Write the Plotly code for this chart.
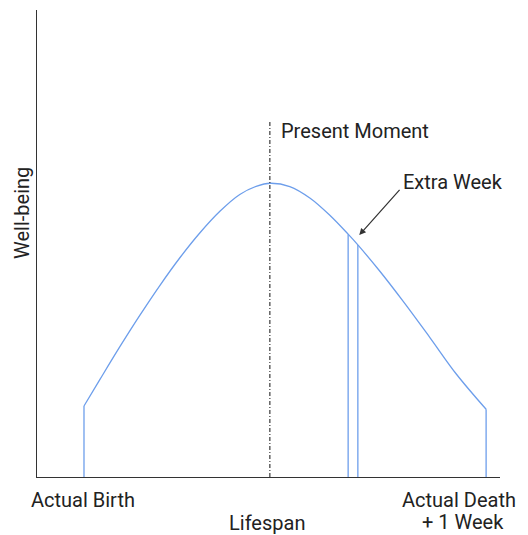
import plotly.graph_objects as go

# Data (arbitrary units: lifespan 0-100, well-being 0-100)
lifespan = [10.15, 13.6, 17.9, 22.2, 26.6, 30.9, 35.2, 39.5, 43.8, 47.5, 50.3,
            54.6, 59.0, 63.3, 67.2, 69.3, 74.1, 79.1, 84.9, 90.6, 97.0]
wellbeing = [15.2, 20.9, 27.9, 34.6, 41.1, 47.0, 52.3, 56.9, 60.5, 62.3, 62.9,
             62.2, 59.7, 56.0, 52.0, 49.7, 44.0, 37.6, 29.8, 22.0, 14.5]
present_x = 50.3
present_top = 76.4
week_idx = [14, 15]  # start / end of the extra week
tick_labels = ["Actual Birth", "Actual Death", "+ 1 Week"]

BLUE = "#6d9eeb"
DARK = "#222222"
FONT = "Roboto"
FS = 20

fig = go.Figure()

# main curve
fig.add_trace(go.Scatter(x=lifespan, y=wellbeing, mode="lines",
                         line=dict(color=BLUE, width=1.3, shape="spline", smoothing=1.0),
                         hoverinfo="skip"))

# vertical lines: birth, death, extra week
vert_idx = [0, len(lifespan) - 1] + week_idx
for i in vert_idx:
    fig.add_trace(go.Scatter(x=[lifespan[i], lifespan[i]], y=[0, wellbeing[i]], mode="lines",
                             line=dict(color=BLUE, width=1.3), hoverinfo="skip"))

# present moment dash-dot
fig.add_trace(go.Scatter(x=[present_x, present_x], y=[0, present_top], mode="lines",
                         line=dict(color="#111111", width=1, dash="4px,2px,1px,2px"),
                         hoverinfo="skip"))

ann = []
ann.append(dict(x=present_x, y=present_top - 2.3, xref="x", yref="y", text="Present Moment",
                showarrow=False, xanchor="left", yanchor="middle", xshift=9,
                font=dict(family=FONT, size=FS, color=DARK)))
# arrow to extra week
tip_x, tip_y = 69.6, 51.8
tail_x, tail_y = 78.6, 61.8
ann.append(dict(x=tip_x, y=tip_y, xref="x", yref="y", ax=tail_x, ay=tail_y,
                axref="x", ayref="y", text="", showarrow=True, arrowhead=2,
                arrowsize=1.1, arrowwidth=1.2, arrowcolor="#333333"))
ann.append(dict(x=tail_x, y=tail_y, xref="x", yref="y", text="Extra Week",
                showarrow=False, xanchor="left", yanchor="bottom", xshift=0, yshift=-8,
                font=dict(family=FONT, size=FS, color=DARK)))
# tick-like labels
ann.append(dict(x=lifespan[0], y=0, xref="x", yref="paper", text=tick_labels[0],
                showarrow=False, xanchor="center", yanchor="top", yshift=-9, xshift=-1,
                font=dict(family=FONT, size=FS, color=DARK)))
ann.append(dict(x=lifespan[-1], y=0, xref="x", yref="paper", text=tick_labels[1],
                showarrow=False, xanchor="right", yanchor="top", yshift=-9, xshift=32,
                font=dict(family=FONT, size=FS, color=DARK)))
ann.append(dict(x=lifespan[-1], y=0, xref="x", yref="paper", text=tick_labels[2],
                showarrow=False, xanchor="center", yanchor="top", yshift=-31, xshift=-23,
                font=dict(family=FONT, size=FS, color=DARK)))
# axis titles
ann.append(dict(x=present_x, y=0, xref="x", yref="paper", text="Lifespan",
                showarrow=False, xanchor="center", yanchor="top", yshift=-32, xshift=-3,
                font=dict(family=FONT, size=FS, color=DARK)))
ann.append(dict(x=0, y=(477 - 213) / 467, xref="paper", yref="paper", text="Well-being",
                showarrow=False, xanchor="center", yanchor="middle", xshift=-15, textangle=-90,
                font=dict(family=FONT, size=FS, color=DARK)))

# page adds an 8px body margin, so the figure is 8px smaller and shifted accordingly
fig.update_layout(
    width=520, height=527,
    margin=dict(l=29, r=28, t=2, b=58),
    paper_bgcolor="white", plot_bgcolor="white",
    showlegend=False,
    annotations=ann,
    xaxis=dict(range=[0, 100], showgrid=False, zeroline=False, showticklabels=False,
               ticks="", showline=True, linecolor="#333333", linewidth=1.2, fixedrange=True),
    yaxis=dict(range=[0, 100], showgrid=False, zeroline=False, showticklabels=False,
               ticks="", showline=True, linecolor="#333333", linewidth=1.2, fixedrange=True),
)

fig.write_html("out.html", config={"displayModeBar": False})
